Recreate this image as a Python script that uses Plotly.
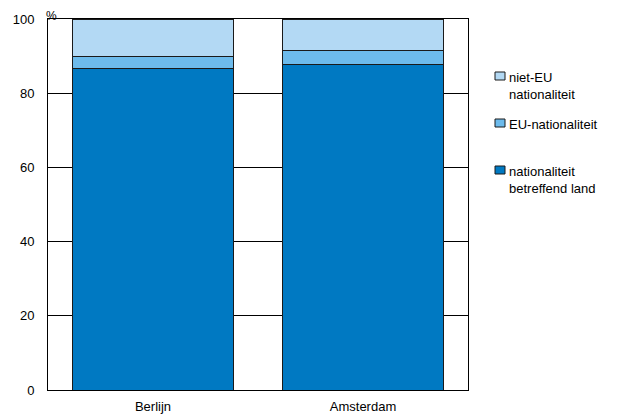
import plotly.graph_objects as go

categories = ["Berlijn", "Amsterdam"]
nat_land = [86.7, 87.8]
eu_nat = [3.3, 3.8]
niet_eu = [10.0, 8.4]
y_ticks = [0, 20, 40, 60, 80, 100]
series_names = ["nationaliteit<br>betreffend land", "EU-nationaliteit", "niet-EU<br>nationaliteit"]
series_colors = ["#0079C2", "#6DBBEC", "#B3D9F4"]

font = "Liberation Sans, Arial, sans-serif"
line = dict(color="#1a1a1a", width=1)

OFF = 8  # page body margin
W, H = 627 - OFF, 416 - OFF
# plot area in screen pixels
SL, SR, ST, SB = 48, 468, 19, 390
L, R, T, B = SL - OFF, SR - OFF, ST - OFF, SB - OFF
pw, ph = R - L, B - T


def px(x):
    return (x - SL) / pw


def py(y):
    return (SB - y) / ph


fig = go.Figure()
for vals, name, col in zip([nat_land, eu_nat, niet_eu], series_names, series_colors):
    fig.add_bar(x=categories, y=vals, name=name, marker=dict(color=col, line=line))

# manual legend (top to bottom: niet-EU, EU, nationaliteit)
legend_tops = {2: 72, 1: 119, 0: 166}
shapes = []
annotations = []
for i, top in legend_tops.items():
    shapes.append(dict(type="rect", xref="paper", yref="paper",
                       x0=px(495), x1=px(505), y0=py(top + 8), y1=py(top),
                       fillcolor=series_colors[i], line=dict(color="#1a1a1a", width=1)))
    annotations.append(dict(text=series_names[i], xref="paper", yref="paper",
                            x=px(507), y=py(top - 4), xanchor="left", yanchor="top",
                            align="left", showarrow=False,
                            font=dict(family=font, size=13, color="#000")))
annotations.append(dict(text="%", xref="paper", yref="paper", x=px(51), y=py(OFF),
                        xanchor="center", yanchor="top", showarrow=False,
                        borderpad=0,
                        font=dict(family=font, size=12, color="#000")))

fig.update_layout(
    barmode="stack",
    bargap=0.23,
    width=W, height=H,
    margin=dict(l=L, r=W - R, t=T, b=H - B, autoexpand=False),
    plot_bgcolor="white", paper_bgcolor="white",
    font=dict(family=font, size=13, color="#000"),
    showlegend=False,
    xaxis=dict(showline=True, linecolor="#000", linewidth=1, mirror=True,
               ticks="", tickfont=dict(size=13), showgrid=False,
               automargin=False, ticklabelstandoff=4),
    yaxis=dict(range=[0, 100], tickvals=y_ticks, showline=True, linecolor="#000",
               linewidth=1, mirror=True, showgrid=True, gridcolor="#000", gridwidth=1,
               ticks="", zeroline=False, tickfont=dict(size=13),
               automargin=False, ticklabelstandoff=10),
    shapes=shapes,
    annotations=annotations,
)
fig.write_html("out.html")
